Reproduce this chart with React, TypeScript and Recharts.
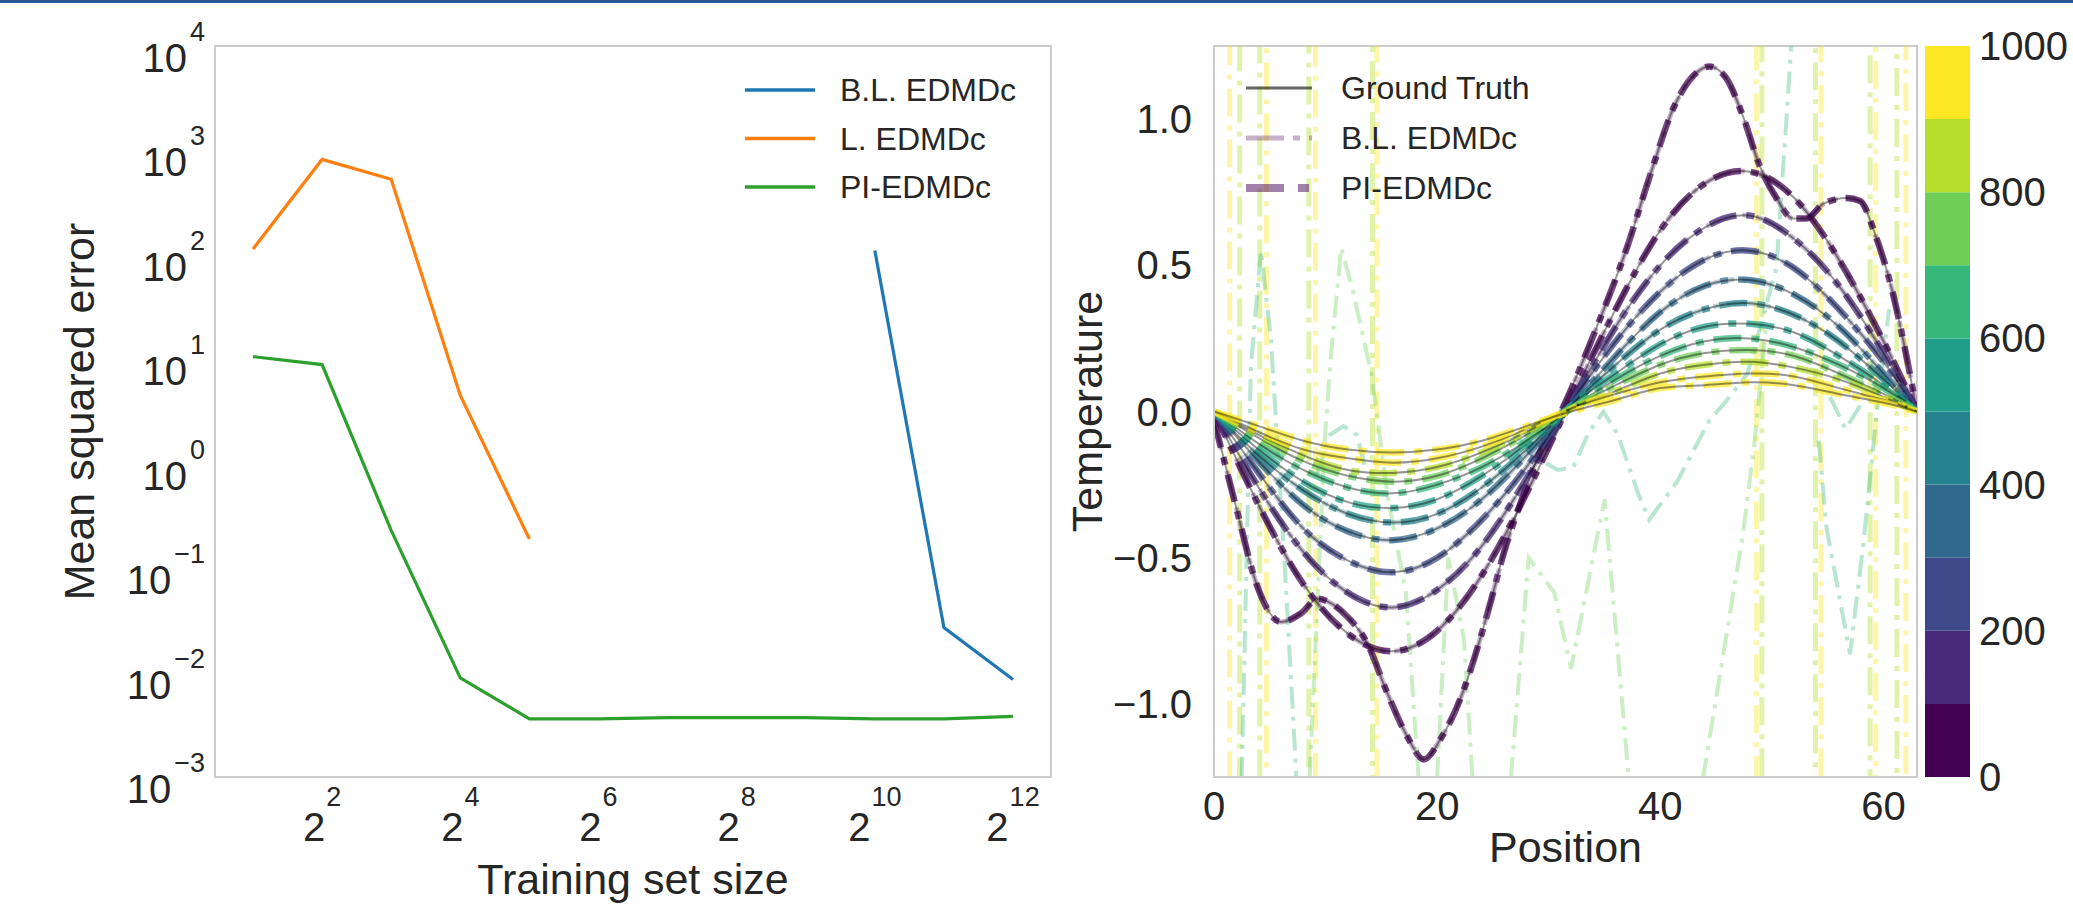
import React from 'react';
import { LineChart, Line, XAxis, YAxis, Legend, Label, BarChart, Bar, ReferenceArea } from 'recharts';

const FONT = '"Liberation Sans", Arial, Helvetica, sans-serif';
const INK = '#262626';
const FRAME = '#cccccc';

// ---------- left panel: error vs training set size ----------
const trainingSizes = [2, 4, 8, 16, 32, 64, 128, 256, 512, 1024, 2048, 4096];
const mseBaseline = [null, null, null, null, null, null, null, null, null, 110, 0.027, 0.0086];
const mseLinear = [114, 820, 530, 4.5, 0.19, null, null, null, null, null, null, null];
const msePhysics = [10.6, 8.9, 0.23, 0.0089, 0.0036, 0.0036, 0.0037, 0.0037, 0.0037, 0.0036, 0.0036, 0.0038];
const sizeTicks = [4, 16, 64, 256, 1024, 4096];
const mseTicks = [0.001, 0.01, 0.1, 1, 10, 100, 1000, 10000];
const sizeDomain = [1.366, 5996];
const mseDomain = [0.001, 10000];

const mseRows = trainingSizes.map((n, i) => ({ n, bl: mseBaseline[i], l: mseLinear[i], pi: msePhysics[i] }));

const leftLegendRows = [
  { name: 'B.L. EDMDc', color: '#1f77b4', width: 3.5, opacity: 1, dash: undefined },
  { name: 'L. EDMDc', color: '#ff7f0e', width: 3.5, opacity: 1, dash: undefined },
  { name: 'PI-EDMDc', color: '#2ca02c', width: 3.5, opacity: 1, dash: undefined },
];

// ---------- right panel: temperature profiles ----------
const positions = [0, 4, 8, 12, 16, 20, 24, 28, 32, 36, 40, 44, 48, 52, 56, 60, 63];
const positionTicks = [0, 20, 40, 60];
const temperatureTicks = [-1, -0.5, 0, 0.5, 1];
const positionDomain = [0, 63];
const temperatureDomain = [-1.25, 1.25];

// t = 0 profile, sampled finer because of its bumps
const positionsInitial = [0, 2, 3.9, 6, 7.8, 9.3, 10.2, 11.9, 13.7, 15.5, 17.3, 18.8, 20.3, 22.1, 23.6, 24.8, 26, 27.5, 29.3, 31.1, 34, 37, 39.1, 41.2, 43, 44.4, 45.9, 47.4, 48.9, 50.4, 51.9, 53.1, 54.6, 56.7, 57.9, 59.3, 60.8, 62.1, 63];
const profileInitial = [-0.03, -0.33, -0.6, -0.72, -0.69, -0.64, -0.65, -0.7, -0.79, -0.96, -1.11, -1.19, -1.12, -0.98, -0.81, -0.65, -0.48, -0.31, -0.13, 0, 0.26, 0.56, 0.81, 1.04, 1.15, 1.18, 1.14, 1.01, 0.84, 0.73, 0.66, 0.66, 0.71, 0.73, 0.72, 0.6, 0.41, 0.18, 0];

const profile1 = [0, -0.32, -0.59, -0.76, -0.82, -0.75, -0.56, -0.28, 0.04, 0.35, 0.62, 0.78, 0.82, 0.73, 0.52, 0.24, 0];
const profile2 = [0, -0.26, -0.48, -0.62, -0.67, -0.61, -0.46, -0.23, 0.03, 0.29, 0.5, 0.63, 0.67, 0.59, 0.43, 0.2, 0];
const profile3 = [0, -0.21, -0.4, -0.51, -0.55, -0.5, -0.37, -0.19, 0.03, 0.24, 0.41, 0.52, 0.55, 0.49, 0.35, 0.17, 0];
const profile4 = [0, -0.17, -0.32, -0.41, -0.44, -0.4, -0.3, -0.15, 0.02, 0.19, 0.34, 0.43, 0.45, 0.4, 0.29, 0.13, 0];
const profile5 = [0, -0.15, -0.27, -0.35, -0.38, -0.35, -0.26, -0.13, 0.02, 0.16, 0.28, 0.35, 0.37, 0.33, 0.24, 0.11, 0];
const profile6 = [0, -0.13, -0.24, -0.31, -0.33, -0.3, -0.22, -0.11, 0.02, 0.13, 0.23, 0.29, 0.3, 0.27, 0.19, 0.09, 0];
const profile7 = [0, -0.11, -0.2, -0.26, -0.28, -0.25, -0.19, -0.1, 0.01, 0.11, 0.19, 0.24, 0.25, 0.22, 0.16, 0.08, 0];
const profile8 = [0, -0.09, -0.17, -0.22, -0.24, -0.22, -0.16, -0.08, 0.01, 0.09, 0.16, 0.2, 0.21, 0.19, 0.13, 0.06, 0];
const profile9 = [0, -0.08, -0.15, -0.2, -0.21, -0.19, -0.14, -0.07, 0.01, 0.07, 0.13, 0.16, 0.17, 0.15, 0.11, 0.05, 0];
const profile10 = [0, -0.07, -0.13, -0.16, -0.175, -0.16, -0.12, -0.06, 0.01, 0.06, 0.1, 0.12, 0.13, 0.12, 0.08, 0.04, 0];
const profile11 = [0, -0.05, -0.1, -0.13, -0.14, -0.13, -0.1, -0.05, 0, 0.04, 0.08, 0.09, 0.1, 0.09, 0.06, 0.03, 0];

const viridis10 = ['#440154', '#482878', '#3e4989', '#31688e', '#26828e', '#1f9e89', '#35b779', '#6ece58', '#b5de2b', '#fde725'];
const profileColors = ['#440154', '#440154', '#482878', '#3e4989', '#31688e', '#26828e', '#1f9e89', '#35b779', '#6ece58', '#b5de2b', '#fde725', '#fde725'];

// B.L. EDMDc predictions that drift away (mid times)
const blMidAx = [2.4, 3.3, 4.2, 5.1, 6.3, 7.6];
const blMidAy = [-1.4, 0.15, 0.55, 0.25, -0.5, -1.4];
const blMidBx = [8.4, 9.9, 10.5, 11.4, 12.4, 14.1, 15.6, 17.2, 18.6];
const blMidBy = [-1.4, -0.11, 0.2, 0.56, 0.42, 0.13, -0.3, -0.62, -1.4];
const blMidCx = [9.2, 10.4, 11.6, 12.8, 13.6];
const blMidCy = [-0.22, -0.08, -0.05, -0.08, -0.2];
const blMidDx = [26.3, 28.2, 30.5, 32, 35, 37.5];
const blMidDy = [-1.4, -0.5, -0.62, -0.88, -0.3, -1.4];
const blMidEx = [27, 29, 30.8, 32.2, 33.6, 34.9, 36.2, 38, 39, 41.5, 44.4, 46, 47.8, 50.4, 52];
const blMidEy = [-0.08, -0.16, -0.2, -0.19, -0.07, 0, -0.08, -0.28, -0.37, -0.24, -0.03, 0.04, 0.13, 0.49, 1.4];
const blMidFx = [43.2, 47.4, 48.4, 49.5];
const blMidFy = [-1.4, -0.42, -0.12, 0.3];
const blMidGx = [54.2, 54.9, 57, 58.2, 59.4, 60.5];
const blMidGy = [-0.1, -0.4, -0.83, -0.45, 0, 0.35];
const blMidHx = [55.2, 56.6, 57.9];
const blMidHy = [0.05, -0.06, 0.02];
const blMidIx = [19.8, 21, 22.4, 23.4];
const blMidIy = [-1.4, -0.5, -0.78, -1.4];

// B.L. EDMDc at late times blows up: only near-vertical crossings are visible
const blLateAx = [1.35, 1.45, 4.65, 4.75, 9.05, 9.15, 14.55, 14.65, 48.55, 48.65, 54.35, 54.45, 59.25, 59.35, 61.95, 62.05];
const blLateAy = [40, -40, -40, 40, 40, -40, -40, 40, 40, -40, -40, 40, 40, -40, -40, 40];
const blLateBx = [2.25, 2.35, 4.05, 4.15, 8.45, 8.55, 14.15, 14.25, 49.05, 49.15, 53.85, 53.95, 58.75, 58.85, 61.15, 61.25];
const blLateBy = [-40, 40, 40, -40, -40, 40, 40, -40, -40, 40, 40, -40, -40, 40, 40, -40];

const rightLegendRows = [
  { name: 'Ground Truth', color: '#000000', width: 3, opacity: 0.6, dash: undefined },
  { name: 'B.L. EDMDc', color: '#440154', width: 5, opacity: 0.3, dash: '38 9 7 9' },
  { name: 'PI-EDMDc', color: '#440154', width: 8, opacity: 0.5, dash: '38 14 11 14' },
];

// colorbar
const colorbarEdges = [0, 100, 200, 300, 400, 500, 600, 700, 800, 900, 1000];
const colorbarTicks = [0, 200, 400, 600, 800, 1000];

const pts = (xs: number[], ys: number[]) => xs.map((x, i) => ({ x, y: ys[i] }));

const initialProfile = pts(positionsInitial, profileInitial);
const laterProfiles = [profile1, profile2, profile3, profile4, profile5, profile6, profile7, profile8, profile9, profile10, profile11].map((p) => pts(positions, p));
const allProfiles = [initialProfile, ...laterProfiles];

const blMidSeries = [
  { data: pts(blMidAx, blMidAy), color: '#35b779' },
  { data: pts(blMidBx, blMidBy), color: '#6ece58' },
  { data: pts(blMidCx, blMidCy), color: '#35b779' },
  { data: pts(blMidDx, blMidDy), color: '#6ece58' },
  { data: pts(blMidEx, blMidEy), color: '#35b779' },
  { data: pts(blMidFx, blMidFy), color: '#6ece58' },
  { data: pts(blMidGx, blMidGy), color: '#35b779' },
  { data: pts(blMidHx, blMidHy), color: '#35b779' },
  { data: pts(blMidIx, blMidIy), color: '#6ece58' },
];
const blLateSeries = [
  { data: pts(blLateAx, blLateAy), color: '#fde725' },
  { data: pts(blLateBx, blLateBy), color: '#b5de2b' },
];

const colorbarRow: Record<string, number | string> = { name: 'time' };
viridis10.forEach((_, i) => {
  colorbarRow[`b${i}`] = colorbarEdges[i + 1] - colorbarEdges[i];
});

const minus = (s: string) => s.replace('-', '\u2212');

function DecadeTick(props: any) {
  const { x, y, payload } = props;
  const exp = Math.round(Math.log10(payload.value));
  return (
    <text x={x} y={y + 26} textAnchor="end" fill={INK} fontFamily={FONT} fontSize={40}>
      <tspan>10</tspan>
      <tspan dx={3} dy={-31} fontSize={27}>{minus(String(exp))}</tspan>
    </text>
  );
}

function PowerOfTwoTick(props: any) {
  const { x, y, payload } = props;
  const exp = Math.round(Math.log2(payload.value));
  return (
    <text x={x} y={y + 64} textAnchor="middle" fill={INK} fontFamily={FONT} fontSize={40}>
      <tspan>2</tspan>
      <tspan dx={1} dy={-35} fontSize={27}>{exp}</tspan>
    </text>
  );
}

function PositionTick(props: any) {
  const { x, y, payload } = props;
  return (
    <text x={x} y={y + 43} textAnchor="middle" fill={INK} fontFamily={FONT} fontSize={40}>
      {payload.value}
    </text>
  );
}

function TemperatureTick(props: any) {
  const { x, y, payload } = props;
  return (
    <text x={x} y={y + 14} textAnchor="end" fill={INK} fontFamily={FONT} fontSize={40}>
      {minus(Number(payload.value).toFixed(1))}
    </text>
  );
}

function ColorbarTick(props: any) {
  const { x, y, payload } = props;
  return (
    <text x={x} y={y + 14} textAnchor="start" fill={INK} fontFamily={FONT} fontSize={40}>
      {payload.value}
    </text>
  );
}

function sideTitle(text: string, offsetX: number) {
  return function SideTitle(props: any) {
    const vb = props.viewBox;
    const cx = vb.x + offsetX;
    const cy = vb.y + vb.height / 2;
    return (
      <text x={cx} y={cy} transform={`rotate(-90 ${cx} ${cy})`} textAnchor="middle" dominantBaseline="central" fill={INK} fontFamily={FONT} fontSize={43}>
        {text}
      </text>
    );
  };
}

function bottomTitle(text: string, baseline: number) {
  return function BottomTitle(props: any) {
    const vb = props.viewBox;
    return (
      <text x={vb.x + vb.width / 2} y={vb.y + baseline} textAnchor="middle" fill={INK} fontFamily={FONT} fontSize={43}>
        {text}
      </text>
    );
  };
}

function legendBlock(rows: typeof rightLegendRows, rowGap: number, swatch: number) {
  return function LegendBlock() {
    return (
      <svg width={340} height={160} style={{ display: 'block', overflow: 'visible' }}>
        {rows.map((r, i) => {
          const cy = 26 + i * rowGap;
          return (
            <g key={r.name}>
              <line x1={6} x2={6 + swatch} y1={cy} y2={cy} stroke={r.color} strokeWidth={r.width} strokeOpacity={r.opacity} strokeDasharray={r.dash} />
              <text x={101} y={cy + 11} fill={INK} fontFamily={FONT} fontSize={32}>
                {r.name}
              </text>
            </g>
          );
        })}
      </svg>
    );
  };
}

const frameLine = { stroke: FRAME, strokeWidth: 2 };

function ErrorPanel() {
  return (
    <LineChart width={1060} height={909} data={mseRows} margin={{ top: 46, right: 9, bottom: 0, left: 0 }}>
      <XAxis dataKey="n" type="number" scale="log" domain={sizeDomain} allowDataOverflow ticks={sizeTicks} tick={<PowerOfTwoTick />} tickSize={0} tickMargin={0} tickLine={false} axisLine={frameLine} height={132} interval={0}>
        <Label content={bottomTitle('Training set size', 117)} />
      </XAxis>
      <YAxis type="number" scale="log" domain={mseDomain} allowDataOverflow ticks={mseTicks} tick={<DecadeTick />} tickSize={0} tickMargin={10} tickLine={false} axisLine={frameLine} width={215} interval={0}>
        <Label content={sideTitle('Mean squared error', 79)} />
      </YAxis>
      <ReferenceArea x1={sizeDomain[0]} x2={sizeDomain[1]} y1={mseDomain[0]} y2={mseDomain[1]} fill="none" fillOpacity={0} stroke={FRAME} strokeWidth={2} ifOverflow="visible" />
      <Legend layout="vertical" align="center" verticalAlign="middle" wrapperStyle={{ left: 739, top: 64, width: 340, height: 160 }} content={legendBlock(leftLegendRows, 48.5, 70)} />
      <Line dataKey="bl" stroke="#1f77b4" strokeWidth={3.2} dot={false} activeDot={false} isAnimationActive={false} type="linear" />
      <Line dataKey="l" stroke="#ff7f0e" strokeWidth={3.2} dot={false} activeDot={false} isAnimationActive={false} type="linear" />
      <Line dataKey="pi" stroke="#2ca02c" strokeWidth={3.2} dot={false} activeDot={false} isAnimationActive={false} type="linear" />
    </LineChart>
  );
}

function ProfilePanel() {
  const profileLines: React.ReactNode[] = [];
  allProfiles.forEach((data, i) => {
    const color = profileColors[i];
    const type = i === 0 ? 'monotone' : 'natural';
    if (i <= 5) {
      // B.L. EDMDc still follows the truth at early times
      profileLines.push(
        <Line key={`bl${i}`} data={data} dataKey="y" type={type} stroke={color} strokeOpacity={0.3} strokeWidth={5} strokeDasharray="30 8 6 8" dot={false} activeDot={false} isAnimationActive={false} legendType="none" />
      );
    }
    profileLines.push(
      <Line key={`pi${i}`} data={data} dataKey="y" type={type} stroke={color} strokeOpacity={0.72} strokeWidth={6.5} strokeDasharray="28 10 8 10" dot={false} activeDot={false} isAnimationActive={false} legendType="none" />
    );
    profileLines.push(
      <Line key={`gt${i}`} data={data} dataKey="y" type={type} stroke="#000000" strokeOpacity={0.42} strokeWidth={2} dot={false} activeDot={false} isAnimationActive={false} legendType="none" />
    );
  });

  return (
    <LineChart width={865} height={909} margin={{ top: 46, right: 8, bottom: 0, left: 0 }}>
      <XAxis dataKey="x" type="number" domain={positionDomain} allowDataOverflow ticks={positionTicks} tick={<PositionTick />} tickSize={0} tickMargin={0} tickLine={false} axisLine={frameLine} height={132} interval={0}>
        <Label content={bottomTitle('Position', 85)} />
      </XAxis>
      <YAxis type="number" domain={temperatureDomain} allowDataOverflow ticks={temperatureTicks} tick={<TemperatureTick />} tickSize={0} tickMargin={22} tickLine={false} axisLine={frameLine} width={154} interval={0}>
        <Label content={sideTitle('Temperature', 27)} />
      </YAxis>
      <ReferenceArea x1={positionDomain[0]} x2={positionDomain[1]} y1={temperatureDomain[0]} y2={temperatureDomain[1]} fill="none" fillOpacity={0} stroke={FRAME} strokeWidth={2} ifOverflow="visible" />
      <Legend layout="vertical" align="center" verticalAlign="middle" wrapperStyle={{ left: 180, top: 62, width: 340, height: 160 }} content={legendBlock(rightLegendRows, 50, 66)} />
      {blLateSeries.map((s, i) => (
        <Line key={`late${i}`} data={s.data} dataKey="y" type="linear" stroke={s.color} strokeOpacity={0.4} strokeWidth={5} strokeDasharray="28 9 5 9" dot={false} activeDot={false} isAnimationActive={false} legendType="none" />
      ))}
      {blMidSeries.map((s, i) => (
        <Line key={`mid${i}`} data={s.data} dataKey="y" type="linear" stroke={s.color} strokeOpacity={0.35} strokeWidth={4} strokeDasharray="22 8 4 8" dot={false} activeDot={false} isAnimationActive={false} legendType="none" />
      ))}
      {profileLines}
    </LineChart>
  );
}

function Colorbar() {
  return (
    <BarChart width={148} height={909} data={[colorbarRow]} margin={{ top: 46, right: 0, bottom: 132, left: 0 }} barCategoryGap={0} barGap={0}>
      <XAxis dataKey="name" hide />
      <YAxis orientation="right" type="number" domain={[0, 1000]} ticks={colorbarTicks} tick={<ColorbarTick />} tickSize={0} tickMargin={9} tickLine={false} axisLine={false} width={103} interval={0} />
      {viridis10.map((c, i) => (
        <Bar key={c} dataKey={`b${i}`} stackId="cb" fill={c} isAnimationActive={false} />
      ))}
    </BarChart>
  );
}

export default function App() {
  return (
    <div style={{ position: 'fixed', left: 0, top: 0, width: 2073, height: 909, background: '#ffffff', overflow: 'hidden' }}>
      <div style={{ position: 'absolute', left: 0, top: 0, width: 2073, height: 3, background: '#2a5590' }} />
      <div style={{ position: 'absolute', left: 0, top: 0 }}>
        <ErrorPanel />
      </div>
      <div style={{ position: 'absolute', left: 1060, top: 0 }}>
        <ProfilePanel />
      </div>
      <div style={{ position: 'absolute', left: 1925, top: 0 }}>
        <Colorbar />
      </div>
    </div>
  );
}
